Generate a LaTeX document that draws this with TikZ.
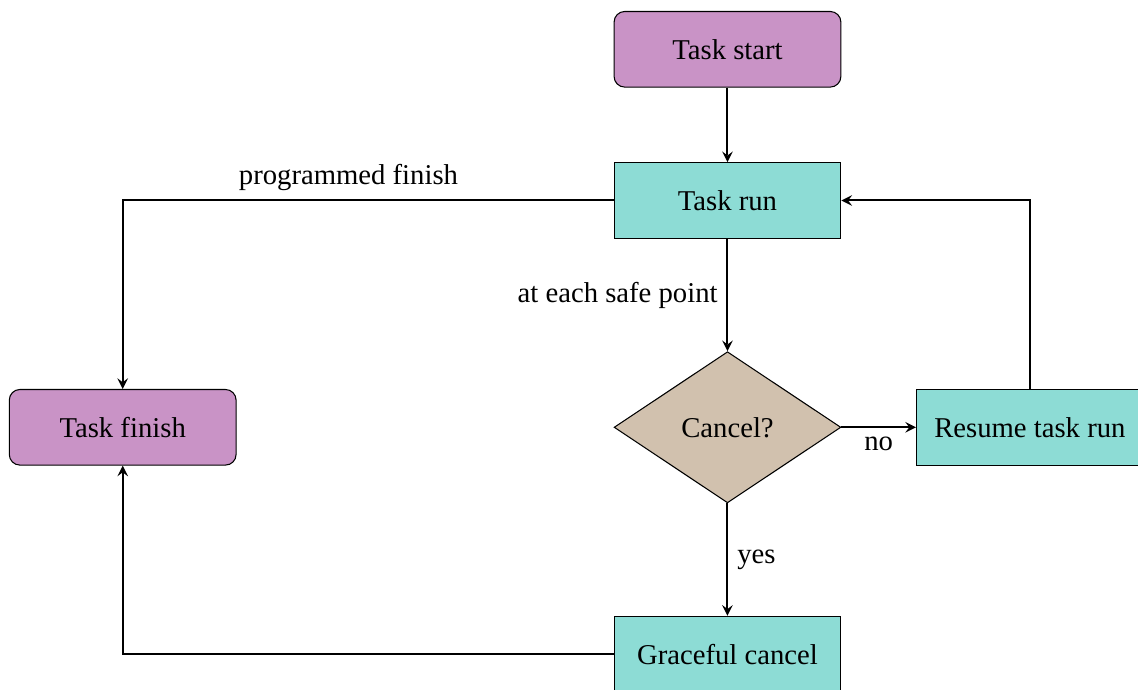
\documentclass[tikz,border=0pt]{standalone}
\usepackage{fontspec}
\setmainfont{Liberation Serif}
\usetikzlibrary{shapes.geometric,arrows}
\definecolor{termcol}{HTML}{C993C6}
\definecolor{proccol}{HTML}{8DDCD5}
\definecolor{deccol}{HTML}{D1C1AE}
\tikzset{
  base/.style={draw=black, minimum width=3cm, minimum height=1cm, align=center,
    font=\fontsize{10.8}{13}\selectfont},
  terminal/.style={base, rounded corners, fill=termcol},
  process/.style={base, fill=proccol},
  decision/.style={base, diamond, aspect=1.5, minimum width=3cm, minimum height=2cm,
    inner sep=0pt, fill=deccol},
  flow/.style={line width=0.75pt, ->, >=stealth},
  lbl/.style={font=\fontsize{10.8}{13}\selectfont}
}
\begin{document}
\begin{tikzpicture}
\useasboundingbox (-9.623,2.652) rectangle (5.430,-6.462);
\node[terminal] (start) at (0,2) {Task start};
\node[process] (run) at (0,0) {Task run};
\node[decision] (cancel) at (0,-3) {Cancel?};
\node[process] (resume) at (4,-3) {Resume task run};
\node[terminal] (finish) at (-8,-3) {Task finish};
\node[process] (graceful) at (0,-6) {Graceful cancel};

\draw[flow] (start) -- (run);
\draw[flow] (run.west) -| node[lbl, above, pos=0.27] {programmed finish} (finish.north);
\draw[flow] (run) -- node[lbl, left] {at each safe point} (cancel);
\draw[flow] (cancel) -- node[lbl, below] {no} (resume);
\draw[flow] (cancel) -- node[lbl, right] {yes} (graceful);
\draw[flow] (resume.north) |- (run.east);
\draw[flow] (graceful.west) -| (finish.south);
\end{tikzpicture}
\end{document}
